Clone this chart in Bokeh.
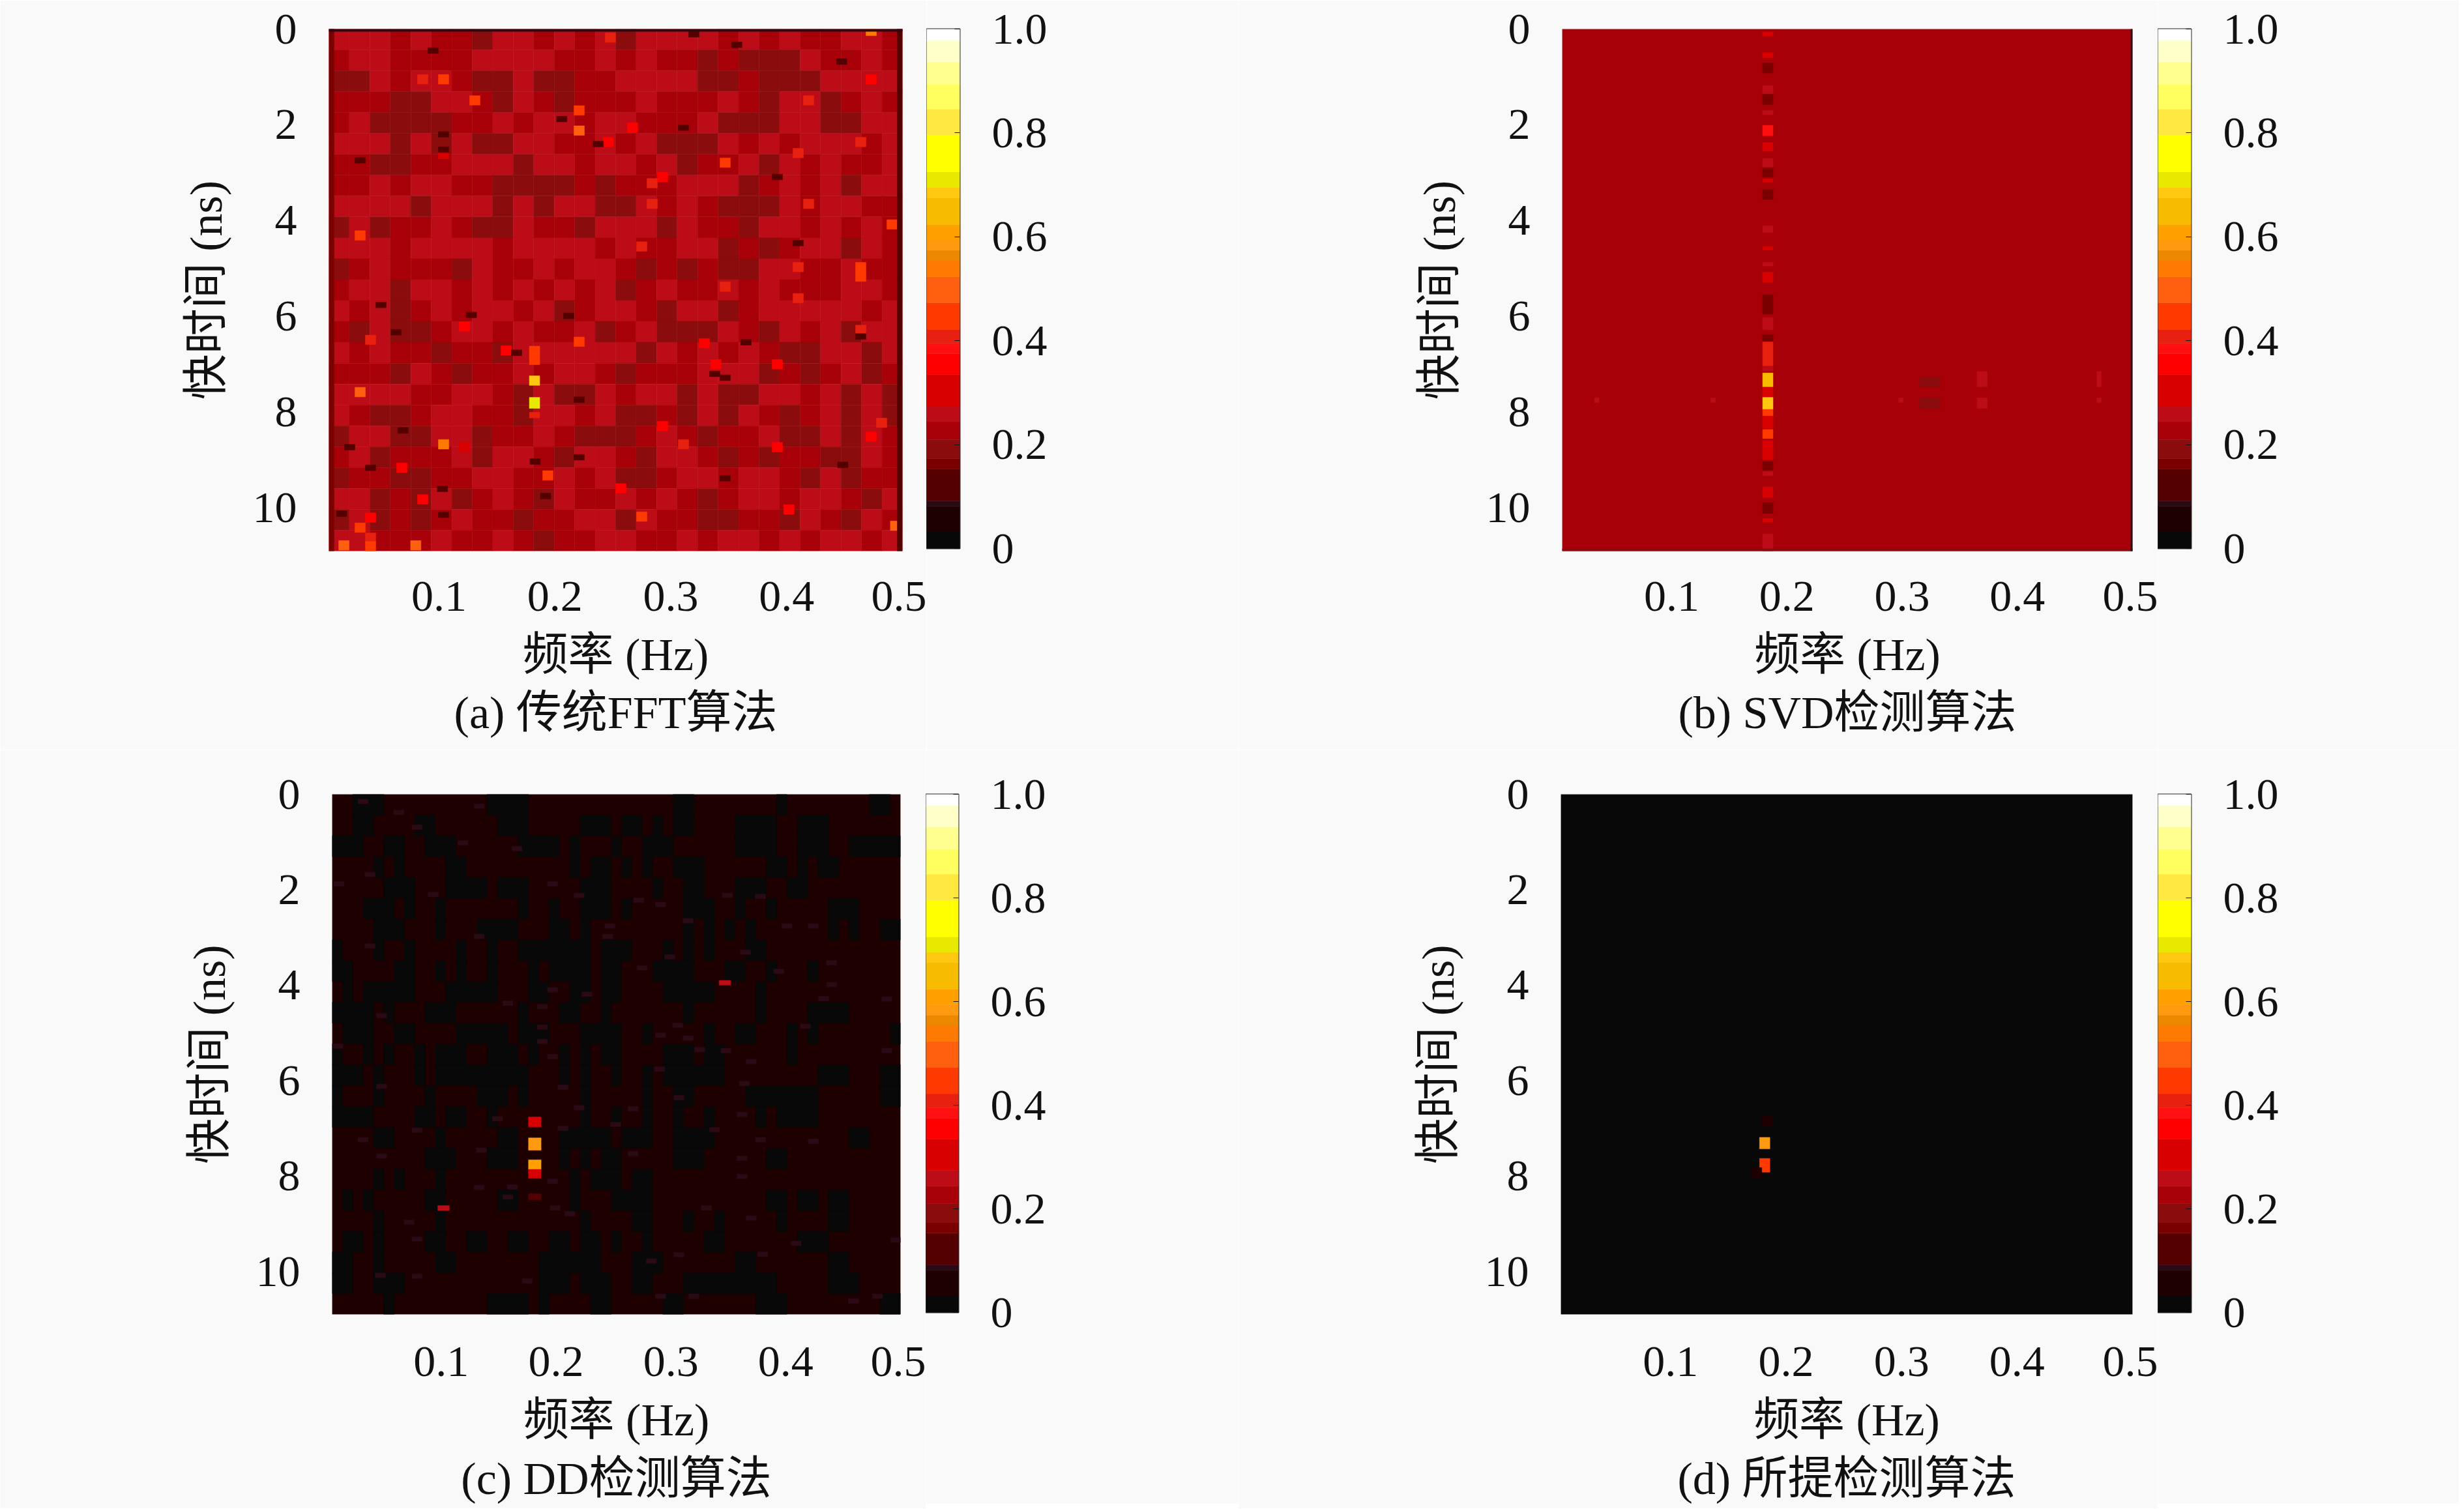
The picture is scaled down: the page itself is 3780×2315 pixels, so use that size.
from bokeh.plotting import figure
from bokeh.layouts import column, row
from bokeh.models import Range1d, FixedTicker, Title
from bokeh.transform import linear_cmap
from bokeh.embed import file_html
from bokeh.resources import INLINE

# ---------- colour scale ----------
level_edges = [0, .032, .082, .092, .153, .173, .210, .244, .274, .335, .375, .395, .422, .473,
               .523, .554, .574, .594, .624, .675, .695, .725, .796, .846, .894, .937, .978, 1]
level_colors = ["#080808", "#1e0000", "#2a0a14", "#550000", "#7a0000", "#8a0c0c", "#a80008", "#bc0c18",
                "#d80000", "#ff0000", "#ff1010", "#e82010", "#ff3a00", "#ff6010", "#ff7a00", "#ec8800",
                "#ff9a10", "#ffa000", "#f7bc00", "#ffc810", "#e8e800", "#ffff00", "#ffe840", "#ffff60",
                "#ffff90", "#ffffc8", "#ffffff"]

# ---------- axes ----------
x_ticks = [0.1, 0.2, 0.3, 0.4, 0.5]
y_ticks = [0, 2, 4, 6, 8, 10]
cb_ticks = [0, 0.2, 0.4, 0.6, 0.8, 1.0]
cb_labels = ["0", "0.2", "0.4", "0.6", "0.8", "1.0"]
F_MIN, F_MAX = 0.005, 0.5
T_MAX = 10.9
x_title = "频率 (Hz)"
y_title = "快时间 (ns)"
captions = ["(a) 传统FFT算法", "(b) SVD检测算法", "(c) DD检测算法", "(d) 所提检测算法"]

# ---------- panel (a): mottling read by eye at a coarse grid (1 dark, 2 mid, 3 bright) ----------
a_grid = [
    "33323221332323" "13333232322332",
    "23322223333223" "23221211132232",
    "11323321131122" "33331121113333",
    "22211332132122" "23222321331232",
    "23111122323323" "32223111331133",
    "33313131133223" "23111323233323",
    "22112233313323" "32312231323223",
    "22323322111121" "22233312323133",
    "33331333131331" "13232111323322",
    "13122321132213" "33132213323232",
    "33323333233332" "32233121233132",
    "12322213223233" "21212113322322",
    "23313323232323" "12322323222332",
    "32312323323123" "32133123333323",
    "21311233232231" "23111321323133",
    "32322122133333" "31323232113313",
    "22213212232332" "12223331212312",
    "33332233213113" "23313113323131",
    "32112332213323" "11213132123131",
    "13311331223211" "12321223113132",
    "23122231332133" "21332121221132",
    "12211223322323" "11233233213122",
    "33121312321322" "32321233233213",
    "13121232212233" "13221122132132",
    "33222322321223" "32232332323323",
]
a_level = {"1": .19, "2": .235, "3": .26}
# hot and dark cells: (frequency Hz, fast time ns, value)
a_spots = [
    (.086, 1.05, .40), (.104, 1.05, .45), (.131, 1.49, .45), (.221, 1.70, .45), (.221, 2.12, .50), (.248, .18, .40),
    (.032, 4.31, .45), (.104, 2.61, .30), (.246, 2.36, .34),
    (.473, .04, .55), (.419, 1.49, .40), (.464, 2.36, .40), (.410, 2.59, .40), (.347, 2.79, .45), (.284, 3.22, .40),
    (.284, 3.65, .40), (.419, 3.65, .40), (.491, 4.08, .45), (.275, 4.54, .40), (.410, 4.97, .40), (.464, 4.97, .45),
    (.464, 5.17, .45), (.347, 5.38, .40), (.267, 2.06, .34), (.473, 1.05, .34), (.293, 3.09, .34),
    (.041, 6.49, .40), (.032, 7.58, .50), (.221, 6.53, .45), (.158, 6.71, .36), (.104, 8.67, .55), (.194, 9.32, .45),
    (.032, 10.41, .45), (.041, 10.62, .40), (.041, 10.20, .34), (.086, 9.82, .34), (.122, 8.73, .30), (.068, 9.16, .34),
    (.018, 10.78, .50), (.041, 10.80, .45), (.080, 10.78, .50), (.122, 6.21, .34),
    (.410, 5.62, .40), (.464, 6.28, .40), (.329, 6.56, .34), (.339, 7.00, .34), (.392, 7.00, .34), (.482, 8.22, .40),
    (.293, 8.29, .34), (.311, 8.67, .40), (.473, 8.51, .34), (.392, 8.73, .34), (.402, 10.03, .36), (.275, 10.18, .45),
    (.257, 9.59, .34), (.494, 10.37, .50),
    (.095, .45, .12), (.104, 2.20, .12), (.104, 2.52, .12), (.032, 2.74, .12), (.206, 1.88, .12), (.2375, 2.40, .12),
    (.357, .33, .12), (.320, .11, .12), (.4475, .68, .12), (.311, 2.06, .12), (.392, 3.09, .12), (.410, 4.47, .12),
    (.050, 5.76, .12), (.063, 6.33, .12), (.128, 5.97, .12), (.212, 5.99, .12), (.167, 6.76, .12), (.221, 7.74, .12),
    (.023, 8.73, .12), (.041, 9.16, .12), (.103, 9.60, .12), (.192, 9.75, .12), (.183, 9.03, .12), (.069, 8.38, .12),
    (.104, 10.14, .12), (.221, 8.94, .12), (.016, 10.12, .12),
    (.365, 6.54, .12), (.338, 7.20, .12), (.347, 7.28, .12), (.347, 9.38, .12), (.4485, 9.10, .12), (.464, 6.42, .12),
]
# target line: (frequency from, to, time from, to, value)
a_target = [
    (.178, .187, 6.62, 7.01, .45), (.178, .187, 7.24, 7.44, .68),
    (.178, .187, 7.69, 7.92, .70), (.178, .187, 8.00, 8.12, .40),
]
a_edges = [(.005, .0095, 0, 10.9, .16), (.4955, .5, 0, 10.9, .13), (.005, .5, 0, .05, .09)]

# ---------- panel (b) ----------
b_base = .235
b_target = [
    (.06, .15, .28), (.49, .60, .28), (.71, .92, .17), (1.18, 1.36, .27), (1.36, 1.58, .17), (1.70, 1.79, .27),
    (2.01, 2.23, .38), (2.37, 2.55, .32), (2.70, 2.88, .27), (2.91, 3.09, .17), (3.13, 3.20, .30),
    (3.35, 3.56, .17), (4.11, 4.25, .27), (4.54, 4.61, .28), (4.87, 4.95, .27), (5.08, 5.29, .30),
    (5.55, 5.95, .17), (6.02, 6.28, .27), (6.38, 6.53, .17), (6.53, 7.04, .42), (7.04, 7.14, .27),
    (7.18, 7.47, .66), (7.48, 7.69, .30), (7.69, 7.94, .68), (7.94, 8.08, .45), (8.08, 8.34, .28),
    (8.36, 8.55, .45), (8.59, 8.99, .33), (9.03, 9.21, .17), (9.24, 9.33, .27), (9.56, 9.78, .30),
    (9.89, 10.11, .17), (10.22, 10.29, .30), (10.54, 10.9, .27),
]
b_target_f = (.179, .188)
b_blocks = [
    (.315, .333, 7.27, 7.47, .19), (.315, .333, 7.70, 7.92, .19),
    (.365, .374, 7.15, 7.47, .26), (.365, .374, 7.70, 7.92, .26),
    (.469, .473, 7.15, 7.47, .26), (.469, .473, 7.70, 7.80, .26),
    (.297, .301, 7.70, 7.80, .26), (.033, .037, 7.70, 7.80, .26), (.134, .138, 7.70, 7.80, .26),
    (.005, .5, 10.85, 10.9, .19), (.4985, .5, 0, 10.9, .09),
]

# ---------- panel (c) ----------
c_base = .05
c_dark = .01
# dark blocks, by row of 25, in column spans of 55
c_dark_spans = [
    [(2, 5), (15, 19), (33, 35), (43, 44), (52, 54)],
    [(2, 4), (8, 10), (16, 19), (24, 27), (28, 30), (31, 32), (33, 35), (39, 43), (45, 48)],
    [(0, 3), (5, 7), (9, 12), (18, 22), (23, 24), (27, 28), (30, 33), (39, 43), (45, 48), (50, 55)],
    [(4, 5), (6, 7), (11, 13), (23, 24), (25, 27), (28, 29), (30, 31), (33, 36), (42, 44), (45, 46), (47, 49)],
    [(5, 8), (11, 15), (16, 19), (24, 27), (31, 32), (34, 36), (39, 42), (44, 46)],
    [(3, 6), (7, 8), (10, 11), (18, 19), (21, 22), (24, 27), (28, 29), (34, 37), (39, 40), (42, 43), (48, 51)],
    [(4, 7), (10, 11), (14, 18), (21, 23), (24, 25), (34, 35), (36, 37), (38, 39), (40, 41), (48, 49), (50, 51), (53, 55)],
    [(0, 1), (4, 5), (7, 8), (12, 13), (15, 16), (18, 25), (26, 29), (32, 33), (34, 35), (36, 37), (40, 42)],
    [(0, 2), (6, 8), (10, 11), (12, 13), (15, 16), (19, 20), (21, 25), (26, 28), (31, 35), (38, 40), (42, 43), (46, 47)],
    [(1, 2), (3, 8), (11, 16), (19, 21), (23, 25), (26, 28), (32, 37), (41, 42)],
    [(0, 4), (5, 6), (9, 12), (18, 19), (22, 24), (26, 27), (34, 35), (41, 42), (46, 50)],
    [(1, 4), (6, 8), (12, 17), (18, 21), (24, 28), (30, 31), (36, 37), (39, 41), (44, 45), (46, 47), (54, 55)],
    [(0, 1), (3, 4), (5, 6), (8, 9), (10, 13), (15, 18), (19, 20), (22, 23), (24, 25), (26, 28), (32, 35), (36, 38), (44, 45)],
    [(0, 3), (4, 5), (8, 9), (10, 19), (22, 23), (24, 25), (27, 28), (30, 31), (32, 38), (47, 50), (53, 55)],
    [(0, 1), (4, 5), (9, 10), (14, 17), (18, 19), (24, 25), (30, 31), (33, 35), (40, 47), (53, 55)],
    [(0, 4), (8, 10), (11, 13), (15, 16), (24, 25), (27, 28), (30, 31), (33, 34), (36, 37), (41, 42), (43, 47)],
    [(4, 6), (10, 11), (16, 18), (22, 27), (28, 31), (33, 37), (50, 52)],
    [(9, 12), (15, 18), (22, 23), (24, 25), (26, 28), (33, 36), (42, 44)],
    [(4, 5), (6, 7), (10, 11), (23, 24), (25, 28), (29, 31)],
    [(1, 2), (3, 4), (9, 11), (16, 18), (23, 24), (27, 31), (42, 44), (45, 47), (48, 50)],
    [(4, 5), (10, 11), (24, 25), (29, 31), (34, 35), (37, 38), (43, 44), (48, 50)],
    [(1, 3), (4, 5), (9, 11), (13, 15), (17, 19), (21, 23), (24, 26), (27, 28), (30, 31), (36, 38), (45, 48)],
    [(0, 2), (4, 5), (10, 12), (20, 26), (29, 32), (39, 41), (48, 50)],
    [(0, 2), (4, 7), (20, 23), (24, 27), (29, 31), (34, 43), (48, 51)],
    [(5, 6), (15, 19), (20, 21), (25, 27), (32, 34), (41, 44), (53, 55)],
]
# faint streaks: (frequency Hz, fast time ns)
c_streaks = [
    (.032, .15), (.133, .25), (.063, .38), (.079, .69), (.119, 1.02), (.166, 1.14), (.038, 1.68), (.011, 1.88),
    (.093, 2.10), (.197, 1.88), (.220, 2.12), (.291, 2.31), (.272, 2.22), (.378, 2.14), (.349, 2.12), (.315, 2.65),
    (.247, 2.76), (.401, 2.76), (.424, 2.76), (.245, 2.98), (.038, 3.18), (.133, 2.98), (.365, 3.31), (.299, 3.41),
    (.440, 3.53), (.275, 3.64), (.440, 3.99), (.394, 3.71), (.197, 4.10), (.227, 4.19), (.433, 4.28), (.488, 4.29),
    (.048, 4.64), (.158, 4.38), (.188, 4.45), (.306, 4.84), (.417, 4.86), (.188, 4.88), (.291, 5.05), (.315, 5.11),
    (.325, 5.35), (.348, 5.37), (.188, 5.18), (.197, 5.50), (.010, 5.28), (.488, 5.37), (.370, 5.60), (.290, 5.76),
    (.206, 6.14), (.364, 6.06), (.048, 6.12), (.307, 6.36), (.362, 6.71), (.267, 6.59), (.220, 6.57), (.149, 6.80),
    (.252, 6.92), (.206, 7.00), (.338, 7.03), (.079, 7.04), (.032, 7.24), (.424, 7.27), (.378, 7.24), (.135, 7.46),
    (.362, 7.63), (.048, 7.58), (.267, 7.53), (.362, 8.01), (.197, 8.11), (.133, 8.24), (.162, 8.23), (.158, 8.44),
    (.370, 8.88), (.199, 8.67), (.212, 8.79), (.331, 8.67), (.072, 8.97), (.079, 9.32), (.409, 9.41), (.496, 9.34),
    (.380, 9.64), (.283, 9.78), (.307, 9.65), (.047, 10.08), (.079, 10.10), (.175, 10.20), (.459, 10.62), (.480, 10.52),
    (.291, 10.52), (.320, 10.52),
]
c_streak_value = .09
c_target = [
    (.176, .187, 6.76, 6.97, .30), (.176, .187, 7.20, 7.46, .58), (.176, .187, 7.66, 7.86, .60),
    (.176, .187, 7.86, 8.05, .30), (.176, .187, 8.37, 8.50, .12),
    (.342, .352, 3.90, 4.00, .26), (.097, .107, 8.62, 8.72, .26),
]

# ---------- panel (d) ----------
d_base = .01
d_target = [
    (.177, .186, 7.19, 7.43, .58), (.177, .186, 7.63, 7.92, .45),
    (.179, .188, 6.74, 6.96, .05), (.170, .179, 7.82, 8.03, .05),
]

# ---------- page ----------
PAGE = "#f9f9f9"
INK = "#111111"
FONT = "Liberation Serif, Noto Sans CJK SC"
TICK_SIZE = "68px"
TITLE_SIZE = "70px"
palette = []
for i in range(256):
    mid = (i + .5) / 256
    palette.append(next(c for c, top in zip(level_colors, level_edges[1:]) if mid <= top))
mapper = lambda field: linear_cmap(field, palette, 0, 1)


def add_cells(p, cells):
    data = dict(l=[c[0] for c in cells], r=[c[1] for c in cells], t=[c[2] for c in cells],
                b=[c[3] for c in cells], v=[c[4] for c in cells])
    p.quad(left="l", right="r", top="t", bottom="b", source=data,
           fill_color=mapper("v"), line_color=mapper("v"), line_width=0.5)


def panel(frame, borders, caption, tick_gap, caption_gap, layers):
    w, h = frame
    left, right, top, bottom = borders
    p = figure(frame_width=w, frame_height=h, min_border_left=left, min_border_right=right,
               min_border_top=top, min_border_bottom=bottom, output_backend="svg", toolbar_location=None,
               x_range=Range1d(F_MIN, F_MAX), y_range=Range1d(T_MAX, 0),
               background_fill_color=PAGE, border_fill_color=PAGE, outline_line_color=None)
    p.grid.visible = False
    for cells in layers:
        add_cells(p, cells)
    for ax, ticks, title in ((p.xaxis[0], x_ticks, x_title), (p.yaxis[0], y_ticks, y_title)):
        ax.ticker = FixedTicker(ticks=ticks)
        ax.major_label_overrides = {t: str(t) for t in ticks}
        ax.major_label_text_font = FONT
        ax.major_label_text_font_size = TICK_SIZE
        ax.major_label_text_color = INK
        ax.axis_label = title
        ax.axis_label_text_font = FONT
        ax.axis_label_text_font_size = TITLE_SIZE
        ax.axis_label_text_font_style = "normal"
        ax.axis_label_text_color = INK
        ax.axis_line_color = None
        ax.major_tick_line_color = None
        ax.minor_tick_line_color = None
        ax.major_tick_out = 0
        ax.major_tick_in = 0
    p.xaxis[0].major_label_standoff = tick_gap
    p.xaxis[0].axis_label_standoff = 26
    p.yaxis[0].major_label_standoff = 49
    p.yaxis[0].axis_label_standoff = 30
    p.add_layout(Title(text=caption, align="center", standoff=caption_gap, text_font=FONT, text_font_size=TITLE_SIZE,
                       text_font_style="normal", text_color=INK), "below")
    return p


def colorbar(frame, borders):
    w, h = frame
    left, right, top, bottom = borders
    p = figure(frame_width=w, frame_height=h, min_border_left=left, min_border_right=right,
               min_border_top=top, min_border_bottom=bottom, output_backend="svg", toolbar_location=None,
               x_range=Range1d(0, 1), y_range=Range1d(0, 1), x_axis_location=None, y_axis_location="right",
               background_fill_color=PAGE, border_fill_color=PAGE,
               outline_line_color="#333333", outline_line_width=2)
    p.grid.visible = False
    data = dict(b=level_edges[:-1], t=level_edges[1:], c=level_colors)
    p.quad(left=0, right=1, bottom="b", top="t", fill_color="c", line_color="c", line_width=0.5, source=data)
    ax = p.yaxis[0]
    ax.ticker = FixedTicker(ticks=cb_ticks)
    ax.major_label_overrides = dict(zip(cb_ticks, cb_labels))
    ax.major_label_text_font = FONT
    ax.major_label_text_font_size = TICK_SIZE
    ax.major_label_text_color = INK
    ax.major_label_standoff = 49
    ax.axis_line_color = None
    ax.major_tick_in = 8
    ax.major_tick_out = 0
    ax.major_tick_line_color = "#111111"
    ax.minor_tick_line_color = None
    return p


# ---------- turn the read values into cells ----------
spot_w = .009
a_cells = []
for i, line in enumerate(a_grid):
    for j, ch in enumerate(line):
        df, dt = (F_MAX - F_MIN) / 28, T_MAX / 25
        a_cells.append((F_MIN + j * df, F_MIN + (j + 1) * df, i * dt, (i + 1) * dt, a_level[ch]))
a_spot_cells = []
for f, t, v in a_spots:
    half = .10 if v > .2 else .06
    a_spot_cells.append((f - spot_w / 2, f + spot_w / 2, t - half, t + half, v))
a_layers = [a_cells, a_spot_cells, a_target + a_edges]

b_layers = [[(F_MIN, F_MAX, 0, T_MAX, b_base)],
            [(b_target_f[0], b_target_f[1], t0, t1, v) for t0, t1, v in b_target] + b_blocks]

c_cells = [(F_MIN, F_MAX, 0, T_MAX, c_base)]
for i, spans in enumerate(c_dark_spans):
    df, dt = (F_MAX - F_MIN) / 55, T_MAX / 25
    for c0, c1 in spans:
        c_cells.append((F_MIN + c0 * df, F_MIN + c1 * df, i * dt, (i + 1) * dt, c_dark))
c_layers = [c_cells,
            [(f - spot_w / 2, f + spot_w / 2, t - .05, t + .05, c_streak_value) for f, t in c_streaks],
            c_target]

d_layers = [[(F_MIN, F_MAX, 0, T_MAX, d_base)], d_target]

# ---------- layout ----------
fa = panel((880, 801), (504, 37, 43, 306), captions[0], 47, 15, a_layers)
ca = colorbar((51, 797), (0, 428, 44, 309))
fb = panel((875, 801), (496, 39, 43, 306), captions[1], 47, 15, b_layers)
cb = colorbar((51, 797), (0, 411, 44, 309))
fc = panel((872, 798), (509, 39, 67, 292), captions[2], 50, 17, c_layers)
cc = colorbar((50, 795), (0, 430, 68, 294))
fd = panel((877, 798), (494, 39, 67, 292), captions[3], 50, 17, d_layers)
cd = colorbar((51, 795), (0, 411, 68, 294))

page = column(row(fa, ca, fb, cb), row(fc, cc, fd, cd))
html = file_html(page, INLINE, title="")
html = html.replace("<body>", f'<body style="background:{PAGE}">', 1)
open("out.html", "w").write(html)
